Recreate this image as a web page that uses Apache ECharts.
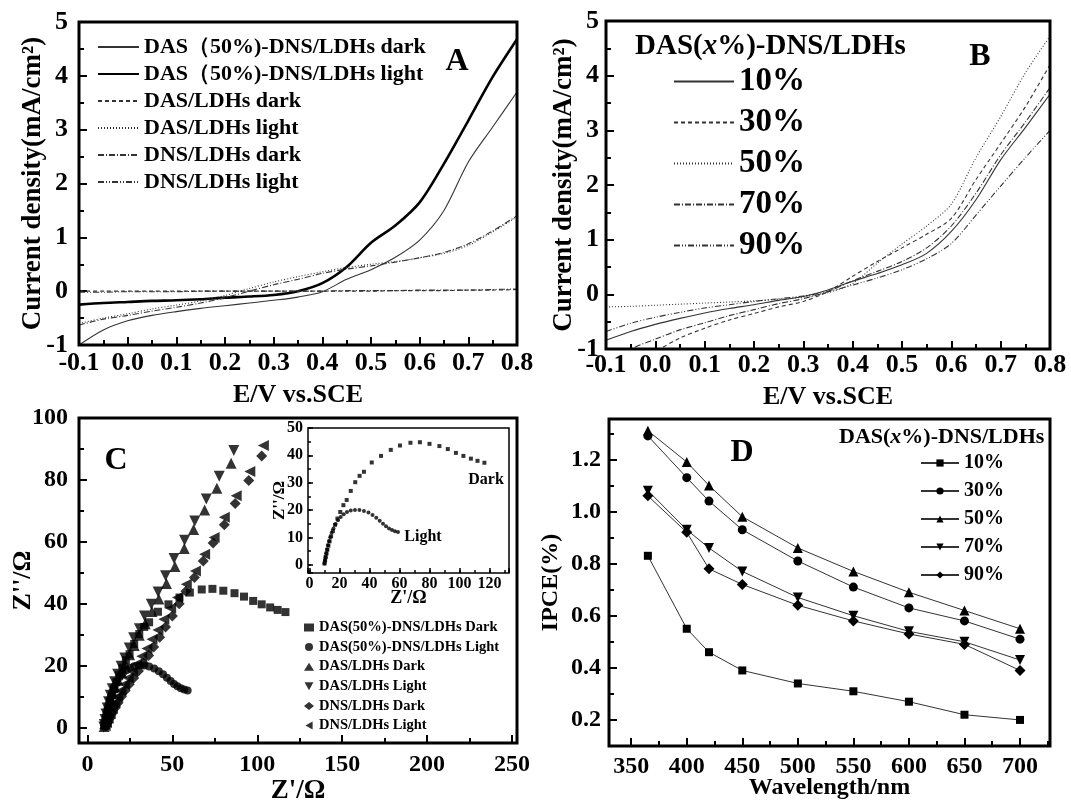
<!DOCTYPE html>
<html>
<head>
<meta charset="utf-8">
<script src="https://cdn.jsdelivr.net/npm/echarts@6/dist/echarts.min.js"></script>
<style>
html, body { margin: 0; background: #fff; }
#chart { width: 1071px; height: 807px; }
</style>
</head>
<body>
<div id="chart"></div>
<script>
const serif = '"Liberation Serif", "Times New Roman", serif';
const black = '#000';

// ---- panel A / B : current density vs potential
const potential = [-0.1, -0.05, 0, 0.05, 0.1, 0.15, 0.2, 0.25, 0.3, 0.35, 0.4, 0.45, 0.5, 0.55, 0.6, 0.65, 0.7, 0.75, 0.8];

const lsvNames = ['DAS（50%)-DNS/LDHs dark', 'DAS（50%)-DNS/LDHs light', 'DAS/LDHs dark', 'DAS/LDHs light', 'DNS/LDHs dark', 'DNS/LDHs light'];
const das50Dark = [-1.0, -0.72, -0.55, -0.45, -0.38, -0.32, -0.27, -0.22, -0.17, -0.11, -0.01, 0.22, 0.40, 0.63, 0.95, 1.50, 2.40, 3.05, 3.70];
const das50Light = [-0.25, -0.22, -0.2, -0.18, -0.17, -0.15, -0.12, -0.1, -0.07, 0.0, 0.15, 0.45, 0.9, 1.22, 1.65, 2.37, 3.17, 3.98, 4.68];
const dasDark = [0, 0, 0, 0, 0, 0, 0, 0, 0, 0, 0, 0, 0, 0.01, 0.01, 0.01, 0.02, 0.02, 0.03];
const dasLight = [-0.6, -0.5, -0.42, -0.33, -0.26, -0.18, -0.08, 0.05, 0.17, 0.27, 0.36, 0.44, 0.5, 0.55, 0.62, 0.7, 0.85, 1.1, 1.38];
const dnsDark = [-0.63, -0.52, -0.45, -0.37, -0.3, -0.22, -0.12, 0.0, 0.12, 0.22, 0.33, 0.41, 0.47, 0.54, 0.62, 0.72, 0.88, 1.12, 1.4];
const dnsLight = [-0.02, -0.02, -0.01, -0.01, -0.01, 0, 0, 0, 0, 0, 0, 0.01, 0.01, 0.01, 0.02, 0.02, 0.02, 0.03, 0.04];

const ratioNames = ['10%', '30%', '50%', '70%', '90%'];
const ratio10 = [-0.84, -0.68, -0.55, -0.44, -0.34, -0.26, -0.19, -0.11, -0.04, 0.08, 0.24, 0.38, 0.54, 0.75, 1.15, 1.73, 2.46, 3.05, 3.66];
const ratio30 = [-1.7, -1.35, -1.05, -0.8, -0.62, -0.47, -0.35, -0.23, -0.13, 0.05, 0.33, 0.6, 0.85, 1.1, 1.39, 2.1, 2.76, 3.43, 4.2];
const ratio50 = [-0.23, -0.22, -0.2, -0.18, -0.16, -0.14, -0.12, -0.09, -0.05, 0.03, 0.2, 0.57, 0.92, 1.25, 1.65, 2.5, 3.25, 4.05, 4.72];
const ratio70 = [-1.25, -1.0, -0.82, -0.65, -0.52, -0.39, -0.28, -0.17, -0.08, 0.05, 0.25, 0.42, 0.6, 0.85, 1.25, 1.85, 2.55, 3.15, 3.78];
const ratio90 = [-0.68, -0.53, -0.42, -0.33, -0.25, -0.19, -0.13, -0.08, -0.03, 0.05, 0.17, 0.3, 0.45, 0.65, 0.93, 1.45, 1.98, 2.5, 3.0];

// ---- panel C : Nyquist plots, [Z', Z'']
const eisNames = ['DAS(50%)-DNS/LDHs Dark', 'DAS(50%)-DNS/LDHs Light', 'DAS/LDHs Dark', 'DAS/LDHs Light', 'DNS/LDHs Dark', 'DNS/LDHs Light'];
const eisDas50Dark = [[10, 0.5], [10.4, 1.6], [10.8, 2.8], [11.3, 4.1], [11.9, 5.5], [12.6, 7], [13.4, 8.6], [14.4, 10.4], [15.6, 12.4], [17, 14.6], [18.6, 16.9], [20.5, 19.3], [22.6, 21.8], [24.8, 23.7], [27.5, 27], [30.5, 30.2], [33.4, 32.5], [36.3, 34], [41.5, 37.4], [47.7, 39.8], [54.2, 42], [60.3, 43.6], [67.3, 44.6], [73.6, 44.8], [80, 44.2], [86.6, 43.4], [92.2, 42.3], [97.6, 40.9], [102.6, 39.8], [107.6, 38.8], [112, 38], [116.6, 37.3]];
const eisDas50Light = [[10, 0.5], [10.3, 1.5], [10.7, 2.8], [11.2, 4.2], [11.7, 5.6], [12.3, 7.1], [13, 8.6], [13.8, 10.1], [14.8, 11.7], [16, 13.3], [17.4, 14.9], [19, 16.3], [20.8, 17.5], [22.8, 18.5], [25, 19.3], [27.5, 19.8], [30.3, 20], [33.3, 20], [36.3, 19.7], [39.3, 19.1], [42, 18.2], [44.5, 17.2], [46.8, 16.1], [49, 15], [51, 14.1], [53, 13.3], [55, 12.7], [57, 12.3], [59, 12]];
const eisDasDark = [[9.8, 0.3], [10.2, 1.3], [10.7, 2.6], [11.3, 4], [12, 5.5], [12.8, 7.2], [13.8, 9], [15, 11], [16.3, 13], [18, 15.3], [20, 17.8], [22.3, 20.5], [24.8, 23.5], [27.5, 26.5], [30.5, 29.8], [34, 33.5], [38, 37.5], [42, 41.5], [46.5, 46.5], [51.5, 52], [57, 57.8], [62.5, 64], [69, 70.3], [76.2, 77.3], [84.6, 85.4]];
const eisDasLight = [[9.6, 0.2], [9.9, 1], [10.3, 2.6], [10.9, 4.4], [11.6, 6.3], [12.4, 8.3], [13.4, 10.4], [14.6, 12.5], [16, 14.8], [17.8, 17.2], [19.8, 19.8], [22, 22.5], [24.6, 25.7], [27.2, 29], [30.6, 31.9], [33.6, 36], [37.6, 39.8], [41.6, 43.8], [46, 49], [51, 54.6], [57.2, 60.5], [63.2, 66.7], [70, 73.8], [77.6, 81.2], [86.2, 89.5]];
const eisDnsDark = [[11, 0.5], [12, 1.6], [13.2, 3], [14.6, 4.6], [16.2, 6.3], [18, 8], [20, 10], [22.2, 12], [24.6, 14], [27.2, 16], [30, 18.3], [33, 20.8], [36, 23.3], [39, 26], [42.5, 29.2], [46, 32.5], [50, 36], [54, 40], [58, 44], [63, 48.5], [68.2, 53.8], [74, 59.6], [80.6, 65.5], [87, 72.4], [95, 79.8], [102.6, 87.7]];
const eisDnsLight = [[10.4, 0.6], [11.2, 1.6], [12.2, 3], [13.4, 4.5], [14.7, 6.2], [16.2, 8], [17.8, 10], [19.7, 12], [21.8, 14], [24, 16], [26.5, 18], [29, 20.5], [32, 23], [35, 25.5], [38, 28.5], [41.5, 31.5], [45, 35], [49, 38.5], [53, 42], [58.2, 46.3], [63.6, 50.6], [69, 56], [74.6, 61.4], [80.6, 67.9], [87.6, 74.9], [95.6, 82.7], [103.6, 91.1]];

// ---- panel D : IPCE
const wavelength = [365, 400, 420, 450, 500, 550, 600, 650, 700];
const ipce10 = [0.83, 0.55, 0.46, 0.39, 0.34, 0.31, 0.27, 0.22, 0.20];
const ipce30 = [1.29, 1.13, 1.04, 0.93, 0.81, 0.71, 0.63, 0.58, 0.51];
const ipce50 = [1.31, 1.19, 1.10, 0.98, 0.86, 0.77, 0.69, 0.62, 0.55];
const ipce70 = [1.08, 0.93, 0.86, 0.77, 0.67, 0.60, 0.54, 0.50, 0.43];
const ipce90 = [1.06, 0.92, 0.78, 0.72, 0.64, 0.58, 0.53, 0.49, 0.39];

const zip = (xs, ys) => xs.map((x, i) => [x, ys[i]]);
const font = (size, extra) => Object.assign({ color: black, fontFamily: serif, fontWeight: 'bold', fontSize: size }, extra || {});

// marker shapes: down and left pointing triangles as paths
const triDown = 'path://M0,0L10,0L5,9Z';
const triLeft = 'path://M9,0L9,10L0,5Z';

// plot boxes; frames are drawn as graphic rects
const boxes = [
    { left: 79, top: 22, width: 438, height: 323 },   // A
    { left: 606, top: 21, width: 444, height: 328 },  // B
    { left: 79, top: 418, width: 438, height: 325 },  // C
    { left: 308, top: 428, width: 201, height: 145 }, // C inset
    { left: 609, top: 419, width: 441, height: 327 }  // D
];
const gridOpts = { show: false, containLabel: false, outerBoundsMode: 'none' };
const grids = boxes.map(b => Object.assign({}, b, gridOpts));
const frames = boxes.map((b, i) => ({
    type: 'rect', silent: true, z: 100,
    shape: { x: b.left, y: b.top, width: b.width, height: b.height },
    style: { fill: 'none', stroke: black, lineWidth: i === 3 ? 1.5 : 3 }
}));

const xAxes = [];
const yAxes = [];
// main axis: labels, name and the data
function addAxis(list, o) {
    list.push({
        type: 'value', gridIndex: o.grid, position: list === xAxes ? 'bottom' : 'left', offset: 0,
        min: o.min, max: o.max, minInterval: o.major, maxInterval: o.major,
        axisLine: { show: false, onZero: false }, splitLine: { show: false },
        axisTick: { show: false },
        axisLabel: {
            show: true, margin: o.margin, formatter: o.fmt, showMinLabel: o.showMin, showMaxLabel: o.showMax,
            color: black, fontFamily: serif, fontWeight: 'bold', fontSize: o.size
        },
        name: o.name, nameLocation: 'middle', nameGap: o.nameGap, nameMoveOverlap: false,
        nameTextStyle: font(o.nameSize)
    });
    addTicks(o.grid, list === xAxes, o.min, o.max, o.major, o.len || 8, o.w || 2);
    addTicks(o.grid, list === xAxes, o.min, o.max, o.minor, o.minorLen || 5, o.w || 2);
    return list.length - 1 - (list === xAxes ? 2 : 2);
}
// inward ticks: a thin strip grid along the frame edge whose split lines are the tick marks
function addTicks(gi, isX, min, max, step, len, w) {
    const b = boxes[gi];
    const g = isX
        ? { left: b.left, width: b.width, top: b.top + b.height - len, height: len }
        : { left: b.left, width: len, top: b.top, height: b.height };
    grids.push(Object.assign(g, gridOpts));
    const idx = grids.length - 1;
    const tickAxis = {
        type: 'value', gridIndex: idx, min: min, max: max, minInterval: step, maxInterval: step,
        position: isX ? 'bottom' : 'left',
        axisLine: { show: false, onZero: false }, axisTick: { show: false }, axisLabel: { show: false },
        splitLine: { show: true, lineStyle: { color: black, width: w, type: 'solid' } }
    };
    const hidden = { type: 'value', gridIndex: idx, show: false, min: 0, max: 1, splitLine: { show: false } };
    if (isX) { xAxes.push(tickAxis); yAxes.push(hidden); } else { yAxes.push(tickAxis); xAxes.push(hidden); }
}
const fix1 = v => v.toFixed(1);

// add the main x and y axis of a panel, return their indices
function panelAxes(xo, yo) {
    xAxes.push(null);
    const xi = xAxes.length - 1;
    yAxes.push(null);
    const yi = yAxes.length - 1;
    const build = (list, i, o) => {
        list[i] = {
            type: 'value', gridIndex: o.grid, position: list === xAxes ? 'bottom' : 'left', offset: 0,
            min: o.min, max: o.max, minInterval: o.major, maxInterval: o.major,
            axisLine: { show: false, onZero: false }, splitLine: { show: false },
            axisTick: { show: false },
            axisLabel: {
                show: true, margin: o.margin, formatter: o.fmt, showMinLabel: o.showMin, showMaxLabel: o.showMax,
                color: black, fontFamily: serif, fontWeight: 'bold', fontSize: o.size
            },
            name: o.name, nameLocation: 'middle', nameGap: o.nameGap, nameMoveOverlap: false,
            nameTextStyle: font(o.nameSize)
        };
        addTicks(o.grid, list === xAxes, o.min, o.max, o.major, o.len || 8, o.w || 2);
        addTicks(o.grid, list === xAxes, o.min, o.max, o.minor, o.minorLen || 5, o.w || 2);
    };
    build(xAxes, xi, xo);
    build(yAxes, yi, yo);
    return [xi, yi];
}

const [aX, aY] = panelAxes(
    { grid: 0, min: -0.1, max: 0.8, major: 0.1, minor: 0.05, margin: 5, fmt: fix1, size: 26, name: 'E/V vs.SCE', nameGap: 37, nameSize: 26, showMin: true, showMax: true },
    { grid: 0, min: -1, max: 5, major: 1, minor: 0.5, margin: 11, size: 26, name: 'Current density(mA/cm²)', nameGap: 32, nameSize: 27, showMin: true, showMax: true });
const [bX, bY] = panelAxes(
    { grid: 1, min: -0.1, max: 0.8, major: 0.1, minor: 0.05, margin: 3, fmt: fix1, size: 26, name: 'E/V vs.SCE', nameGap: 35, nameSize: 26, showMin: true, showMax: true },
    { grid: 1, min: -1, max: 5, major: 1, minor: 0.5, margin: 7, size: 26, name: 'Current density(mA/cm²)', nameGap: 28, nameSize: 27, showMin: true, showMax: true });
const [cX, cY] = panelAxes(
    { grid: 2, min: -5, max: 253, major: 50, minor: 25, margin: 10, size: 24, name: "Z'/Ω", nameGap: 35, nameSize: 27, showMin: false, showMax: false },
    { grid: 2, min: -5, max: 100, major: 20, minor: 10, margin: 11, size: 24, name: "Z''/Ω", nameGap: 43, nameSize: 26, showMin: false, showMax: true });
const [iX, iY] = panelAxes(
    { grid: 3, min: -1, max: 133, major: 20, minor: 10, margin: 3, size: 16, len: 5, minorLen: 3, w: 1.5, name: "Z'/Ω", nameGap: 16, nameSize: 18, showMin: false, showMax: false },
    { grid: 3, min: -3, max: 50, major: 10, minor: 5, margin: 5, size: 16, len: 5, minorLen: 3, w: 1.5, name: "Z''/Ω", nameGap: 20, nameSize: 17, showMin: false, showMax: true });
const [dX, dY] = panelAxes(
    { grid: 4, min: 330, max: 727, major: 50, minor: 25, margin: 9, size: 24, name: 'Wavelength/nm', nameGap: 30, nameSize: 24, showMin: false, showMax: false },
    { grid: 4, min: 0.1, max: 1.355, major: 0.2, minor: 0.1, margin: 8, fmt: fix1, size: 24, name: 'IPCE(%)', nameGap: 46, nameSize: 24, showMin: false, showMax: false });

const dashes = ['solid', [4, 3], [1, 2], [6, 2, 1, 2], [6, 2, 1, 2, 1, 2]];

const series = [];
[das50Dark, das50Light, dasDark, dasLight, dnsDark, dnsLight].forEach((ys, i) => {
    series.push({
        type: 'line', name: lsvNames[i], xAxisIndex: aX, yAxisIndex: aY,
        data: zip(potential, ys), symbol: 'none', smooth: 0.3,
        itemStyle: { color: black },
        lineStyle: {
            color: i === 1 ? black : '#333', width: i === 1 ? 2.6 : 1.1,
            type: i < 2 ? 'solid' : dashes[i - 1]
        }
    });
});
[ratio10, ratio30, ratio50, ratio70, ratio90].forEach((ys, i) => {
    series.push({
        type: 'line', name: ratioNames[i], xAxisIndex: bX, yAxisIndex: bY,
        data: zip(potential, ys), symbol: 'none', smooth: 0.3,
        itemStyle: { color: black },
        lineStyle: { color: '#333', width: 1.1, type: dashes[i] }
    });
});

const eisSymbols = [['rect', 8], ['circle', 8], ['triangle', 11], [triDown, 11], ['diamond', 11], [triLeft, 11]];
[eisDas50Dark, eisDas50Light, eisDasDark, eisDasLight, eisDnsDark, eisDnsLight].forEach((pts, i) => {
    series.push({
        type: 'scatter', name: eisNames[i], xAxisIndex: cX, yAxisIndex: cY, data: pts,
        symbol: eisSymbols[i][0], symbolSize: eisSymbols[i][1],
        itemStyle: { color: black }
    });
});
series.push({ type: 'scatter', name: 'inset dark', xAxisIndex: iX, yAxisIndex: iY, data: eisDas50Dark, symbol: 'rect', symbolSize: 4, itemStyle: { color: black } });
series.push({ type: 'scatter', name: 'inset light', xAxisIndex: iX, yAxisIndex: iY, data: eisDas50Light, symbol: 'circle', symbolSize: 4, itemStyle: { color: black } });

const ipceSymbols = [['rect', 8], ['circle', 9], ['triangle', 10], [triDown, 10], ['diamond', 11]];
[ipce10, ipce30, ipce50, ipce70, ipce90].forEach((ys, i) => {
    series.push({
        type: 'line', name: 'D ' + ratioNames[i], xAxisIndex: dX, yAxisIndex: dY,
        data: zip(wavelength, ys),
        symbol: ipceSymbols[i][0], symbolSize: ipceSymbols[i][1],
        itemStyle: { color: black }, lineStyle: { color: '#333', width: 1 }
    });
});

const legendBase = { orient: 'vertical', padding: 0, selectedMode: false, inactiveColor: black };
const lineOnly = { opacity: 0 };
const legends = [
    Object.assign({}, legendBase, { data: lsvNames, left: 97, top: 36, itemWidth: 41, itemHeight: 14, itemGap: 5, itemStyle: lineOnly, textStyle: font(22, { lineHeight: 22 }) }),
    Object.assign({}, legendBase, { data: ratioNames, left: 673, top: 65, itemWidth: 60, itemHeight: 14, itemGap: 8, itemStyle: lineOnly, textStyle: font(33, { lineHeight: 33 }) }),
    Object.assign({}, legendBase, { data: eisNames, left: 304, top: 620, itemWidth: 10, itemHeight: 8, itemGap: 4.6, textStyle: font(14.5, { lineHeight: 14 }) }),
    Object.assign({}, legendBase, { data: ratioNames.map(n => 'D ' + n), formatter: n => n.slice(2), left: 920, top: 453, itemWidth: 38, itemHeight: 9, itemGap: 8, textStyle: font(20, { lineHeight: 20 }) })
];

function label(text, x, y, size, align) {
    return {
        type: 'text', x: x, y: y, silent: true,
        style: {
            text: text, fill: black, font: 'bold ' + size + 'px ' + serif,
            align: align || 'center', verticalAlign: 'middle',
            textAlign: align || 'center', textVerticalAlign: 'middle'
        }
    };
}
function richLabel(x, y, size) {
    const base = { fill: black, fontFamily: serif, fontWeight: 'bold', fontSize: size };
    return {
        type: 'text', x: x, y: y, silent: true,
        style: {
            text: '{a|DAS(}{b|x}{a|%)-DNS/LDHs}', fill: black, font: 'bold ' + size + 'px ' + serif,
            align: 'left', verticalAlign: 'middle', textAlign: 'left', textVerticalAlign: 'middle',
            rich: { a: base, b: Object.assign({}, base, { fontStyle: 'italic' }) }
        }
    };
}

const chart = echarts.init(document.getElementById('chart'), null, { renderer: 'canvas' });
chart.setOption({
    animation: false,
    backgroundColor: '#fff',
    textStyle: { fontFamily: serif },
    grid: grids,
    xAxis: xAxes,
    yAxis: yAxes,
    legend: legends,
    series: series,
    graphic: frames.concat([
        label('A', 457, 62, 32),
        label('B', 980, 57, 32),
        label('C', 116, 461, 32),
        label('D', 742, 453, 32),
        richLabel(635, 47, 29),
        richLabel(839, 437, 22),
        label('Dark', 486, 480, 16),
        label('Light', 423, 537, 16)
    ])
});
window.onresize = function () {
    chart.resize();
};
</script>
</body>
</html>
